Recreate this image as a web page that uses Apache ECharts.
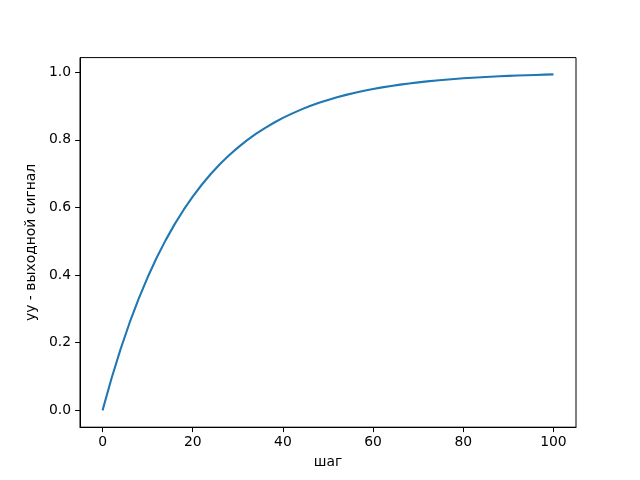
<!DOCTYPE html>
<html><head><meta charset="utf-8">
<script src="https://cdn.jsdelivr.net/npm/echarts@6/dist/echarts.min.js"></script>
<style>html,body{margin:0;padding:0;background:#fff}#c{width:640px;height:480px}</style>
</head><body><div id="c"></div>
<script>
const steps = [0,2,4,6,8,10,12,14,16,18,20,22,24,26,28,30,32,34,36,38,40,42,44,46,48,50,52,54,56,58,60,62,64,66,68,70,72,74,76,78,80,82,84,86,88,90,92,94,96,98,100];
const yy = [0,0.0952,0.1813,0.2592,0.3297,0.3935,0.4512,0.5034,0.5507,0.5934,0.6321,0.6671,0.6988,0.7275,0.7534,0.7769,0.7981,0.8173,0.8347,0.8504,0.8647,0.8775,0.8892,0.8997,0.9093,0.9179,0.9257,0.9328,0.9392,0.9450,0.9502,0.9550,0.9592,0.9631,0.9666,0.9698,0.9727,0.9753,0.9776,0.9798,0.9817,0.9834,0.9850,0.9864,0.9877,0.9889,0.9899,0.9909,0.9918,0.9926,0.9933];
const xTicks = [0,20,40,60,80,100];
const yTicks = [0,0.2,0.4,0.6,0.8,1.0];
const xName = 'шаг';
const yName = 'yy - выходной сигнал';

const font = 'DejaVu Sans';
const chart = echarts.init(document.getElementById('c'), null, {renderer:'canvas'});
chart.setOption({
  animation:false,
  grid:{left:80, top:57.6, width:496, height:369.6, show:true, borderColor:'#000', borderWidth:1, backgroundColor:'transparent'},
  xAxis:{
    type:'value', min:-5, max:105,
    name:xName, nameLocation:'middle', nameGap:28,
    nameTextStyle:{fontFamily:font, fontSize:13.9, color:'#000'},
    axisLine:{show:true, onZero:false, lineStyle:{color:'#000', width:1}},
    axisTick:{show:true, length:4.9, customValues:xTicks, lineStyle:{color:'#000', width:1}},
    axisLabel:{show:true, customValues:xTicks, margin:8, fontFamily:font, fontSize:13.9, color:'#000'},
    splitLine:{show:false}
  },
  yAxis:{
    type:'value', min:-0.04967, max:1.04300,
    name:yName, nameLocation:'middle', nameGap:36,
    nameTextStyle:{fontFamily:font, fontSize:13.9, color:'#000'},
    axisLine:{show:true, onZero:false, lineStyle:{color:'#000', width:1}},
    axisTick:{show:true, length:4.9, customValues:yTicks, lineStyle:{color:'#000', width:1}},
    axisLabel:{show:true, customValues:yTicks, margin:9, fontFamily:font, fontSize:13.9, color:'#000', formatter:v=>v.toFixed(1)},
    splitLine:{show:false}
  },
  series:[{
    type:'line', data:steps.map((s,i)=>[s,yy[i]]), showSymbol:false, smooth:false,
    lineStyle:{color:'#1f77b4', width:2.08}, clip:false
  }]
});
</script></body></html>
